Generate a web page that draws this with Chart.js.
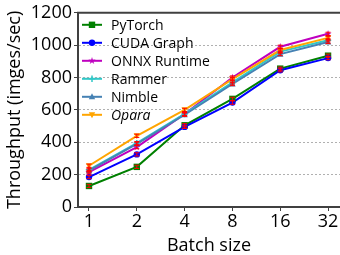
<!DOCTYPE html>
<html>
<head>
<meta charset="utf-8">
<script src="https://cdn.jsdelivr.net/npm/chart.js@4/dist/chart.umd.min.js"></script>
<style>
  html, body { margin: 0; padding: 0; background: #fff; }
  #wrap { width: 340px; height: 255px; position: relative; }
</style>
</head>
<body>
<div id="wrap"><canvas id="c"></canvas></div>
<script>
// batch sizes on the x axis (placed evenly, log2 spacing)
const batchSizes = [1, 2, 4, 8, 16, 32];
const yTicks = [0, 200, 400, 600, 800, 1000, 1200];

// throughput values (images/sec)
const pytorch = [130, 248, 505, 668, 855, 935];
const cudaGraph = [185, 325, 495, 645, 845, 920];
const onnxRuntime = [215, 370, 575, 800, 990, 1070];
const rammer = [230, 395, 575, 770, 960, 1030];
const nimble = [225, 390, 570, 760, 945, 1020];
const opara = [255, 440, 600, 790, 970, 1045];
// half-height of the red error bars
const errHalf = [10, 10, 10, 10, 10, 10];

const FONT = '"Open Sans", "DejaVu Sans", sans-serif';

const series = [
  { label: 'PyTorch', data: pytorch, color: '#008000', style: 'rect' },
  { label: 'CUDA Graph', data: cudaGraph, color: '#0000ff', style: 'circle' },
  { label: 'ONNX Runtime', data: onnxRuntime, color: '#bf00bf', style: 'star' },
  { label: 'Rammer', data: rammer, color: '#30c8c8', style: 'crossRot' },
  { label: 'Nimble', data: nimble, color: '#4682b4', style: 'triangle' },
  { label: 'Opara', data: opara, color: '#ffa500', style: 'triangleDown', italic: true }
];

function drawMarker(ctx, style, x, y, r, color) {
  ctx.save();
  ctx.fillStyle = color;
  ctx.strokeStyle = color;
  ctx.lineWidth = 1.5;
  ctx.beginPath();
  if (style === 'rect') {
    ctx.rect(x - r, y - r, 2 * r, 2 * r);
    ctx.fill();
  } else if (style === 'circle') {
    ctx.arc(x, y, r, 0, Math.PI * 2);
    ctx.fill();
  } else if (style === 'star') {
    for (let i = 0; i < 10; i++) {
      const a = -Math.PI / 2 + i * Math.PI / 5;
      const rr = i % 2 ? r * 0.45 : r * 1.2;
      const px = x + rr * Math.cos(a), py = y + rr * Math.sin(a);
      if (i === 0) ctx.moveTo(px, py); else ctx.lineTo(px, py);
    }
    ctx.closePath();
    ctx.fill();
  } else if (style === 'crossRot') {
    ctx.moveTo(x - r, y); ctx.lineTo(x + r, y);
    ctx.moveTo(x, y - r); ctx.lineTo(x, y + r);
    ctx.stroke();
  } else if (style === 'triangle') {
    ctx.moveTo(x, y - r * 1.1); ctx.lineTo(x + r, y + r * 0.8); ctx.lineTo(x - r, y + r * 0.8);
    ctx.closePath();
    ctx.fill();
  } else if (style === 'triangleDown') {
    ctx.moveTo(x, y + r * 1.1); ctx.lineTo(x + r, y - r * 0.8); ctx.lineTo(x - r, y - r * 0.8);
    ctx.closePath();
    ctx.fill();
  }
  ctx.restore();
}

const datasets = series.map((s, i) => ({
  label: s.label,
  data: s.data.map((v, j) => ({ x: Math.log2(batchSizes[j]), y: v })),
  borderColor: s.color,
  backgroundColor: s.color,
  borderWidth: 2,
  pointRadius: 0,
  tension: 0,
  order: series.length - i, // later series drawn on top, like matplotlib
  _style: s.style,
  _italic: !!s.italic
}));

// markers, red error bars, top spine and the in-plot legend
const extras = {
  id: 'extras',
  afterDatasetsDraw(chart) {
    const ctx = chart.ctx;
    const xs = chart.scales.x, ys = chart.scales.y;
    chart.data.datasets.forEach((ds) => {
      ds.data.forEach((p) => {
        drawMarker(ctx, ds._style, xs.getPixelForValue(p.x), ys.getPixelForValue(p.y), 3.2, ds.borderColor);
      });
    });
    ctx.save();
    ctx.strokeStyle = '#ff0000';
    ctx.lineWidth = 1;
    chart.data.datasets.forEach((ds) => {
      ds.data.forEach((p, j) => {
        const px = xs.getPixelForValue(p.x);
        const top = ys.getPixelForValue(p.y + errHalf[j]);
        const bot = ys.getPixelForValue(p.y - errHalf[j]);
        ctx.beginPath();
        ctx.moveTo(px, top); ctx.lineTo(px, bot);
        ctx.moveTo(px - 2.5, top); ctx.lineTo(px + 2.5, top);
        ctx.moveTo(px - 2.5, bot); ctx.lineTo(px + 2.5, bot);
        ctx.stroke();
      });
    });
    ctx.restore();
  },
  afterDraw(chart) {
    const ctx = chart.ctx;
    const a = chart.chartArea;
    ctx.save();
    ctx.strokeStyle = '#404040';
    ctx.lineWidth = 2;
    ctx.beginPath();
    ctx.moveTo(a.left - 1, a.top);
    ctx.lineTo(a.right, a.top);
    ctx.stroke();

    // legend
    const x0 = a.left + 4, y0 = a.top + 12, rowH = 18;
    ctx.textBaseline = 'middle';
    chart.data.datasets.forEach((ds, i) => {
      const y = y0 + i * rowH;
      ctx.strokeStyle = ds.borderColor;
      ctx.lineWidth = 2;
      ctx.beginPath();
      ctx.moveTo(x0, y); ctx.lineTo(x0 + 20, y);
      ctx.stroke();
      drawMarker(ctx, ds._style, x0 + 10, y, 3.2, ds.borderColor);
      ctx.fillStyle = '#000';
      ctx.font = (ds._italic ? 'italic ' : '') + '14px ' + FONT;
      ctx.fillText(ds.label, x0 + 29, y + 1);
    });
    ctx.restore();
  }
};

new Chart(document.getElementById('c'), {
  type: 'line',
  data: { datasets },
  plugins: [extras],
  options: {
    responsive: true,
    maintainAspectRatio: false,
    animation: false,
    events: [],
    layout: { padding: { top: 11, right: 0, left: 0, bottom: 0 } },
    plugins: { legend: { display: false }, tooltip: { enabled: false } },
    scales: {
      x: {
        type: 'linear',
        min: -0.23,
        max: 5.25,
        afterBuildTicks: (s) => { s.ticks = batchSizes.map((b) => ({ value: Math.log2(b) })); },
        afterFit: (s) => { s.height = 48; },
        ticks: {
          color: '#000',
          font: { family: FONT, size: 18 },
          padding: 0,
          maxRotation: 0,
          callback: (v) => String(batchSizes[Math.round(v)])
        },
        grid: { drawOnChartArea: false, tickLength: 4, tickColor: '#404040', tickWidth: 1 },
        border: { color: '#404040', width: 2 },
        title: { display: true, text: 'Batch size', color: '#000', font: { family: FONT, size: 18 }, padding: { top: 0, bottom: -2 } }
      },
      y: {
        min: 0,
        max: 1200,
        afterBuildTicks: (s) => { s.ticks = yTicks.map((v) => ({ value: v })); },
        afterFit: (s) => { s.width = 78; },
        ticks: { color: '#000', font: { family: FONT, size: 18 }, padding: 2, callback: (v) => String(v) },
        grid: { color: '#b0b0b0', lineWidth: 1, tickLength: 4, tickColor: '#404040', tickWidth: 1 },
        border: { color: '#404040', width: 2, dash: [2, 2] },
        title: { display: true, text: 'Throughput (imges/sec)', color: '#000', font: { family: FONT, size: 18 }, padding: { top: 4, bottom: 0 } }
      }
    }
  }
});
</script>
</body>
</html>
